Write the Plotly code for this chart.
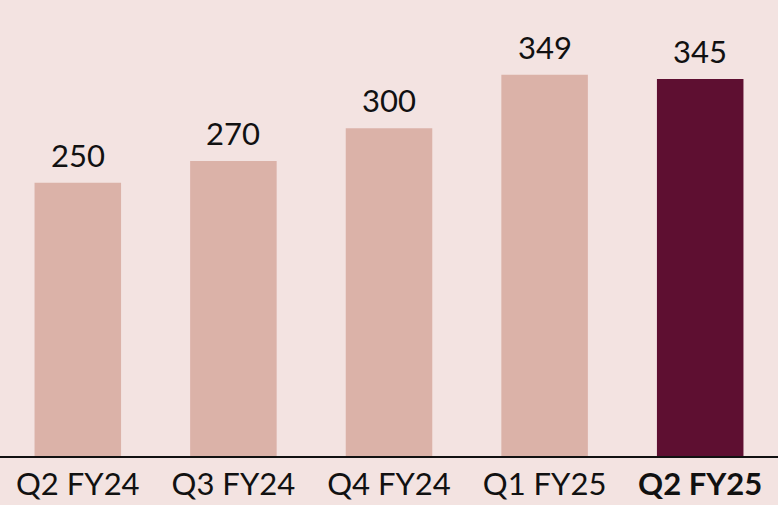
import plotly.graph_objects as go

categories = ["Q2 FY24", "Q3 FY24", "Q4 FY24", "Q1 FY25", "Q2 FY25"]
values = [250, 270, 300, 349, 345]
tick_labels = ["Q2 FY24", "Q3 FY24", "Q4 FY24", "Q1 FY25", "<b>Q2 FY25</b>"]

light = "#DBB2A8"
dark = "#5E0F31"
bg = "#F3E3E1"
colors = [light, light, light, light, dark]
FONT = "Lato, Open Sans, sans-serif"

fig = go.Figure(go.Bar(
    x=categories, y=values, marker=dict(color=colors, line=dict(width=0)),
    cliponaxis=False, hoverinfo="skip",
))
for c, v in zip(categories, values):
    fig.add_annotation(x=c, y=v, text=str(v), showarrow=False,
                       yanchor="bottom", yshift=7,
                       font=dict(family=FONT, size=31, color="#111111"))
fig.update_layout(
    width=778, height=505,
    margin=dict(l=0, r=0, t=0, b=49),
    paper_bgcolor=bg, plot_bgcolor=bg,
    bargap=0.444,
    showlegend=False,
    font=dict(family=FONT, size=31, color="#111111"),
)
fig.update_xaxes(
    tickmode="array", tickvals=categories, ticktext=tick_labels,
    showline=True, linecolor="#111111", linewidth=1.5, ticks="",
    tickfont=dict(size=31), showgrid=False,
)
fig.update_yaxes(range=[0, 417.3], visible=False, showgrid=False, zeroline=False)
fig.write_html("out.html", config={"displayModeBar": False},
               post_script="document.body.style.margin='0';document.body.style.padding='0';document.body.style.overflow='hidden';")
